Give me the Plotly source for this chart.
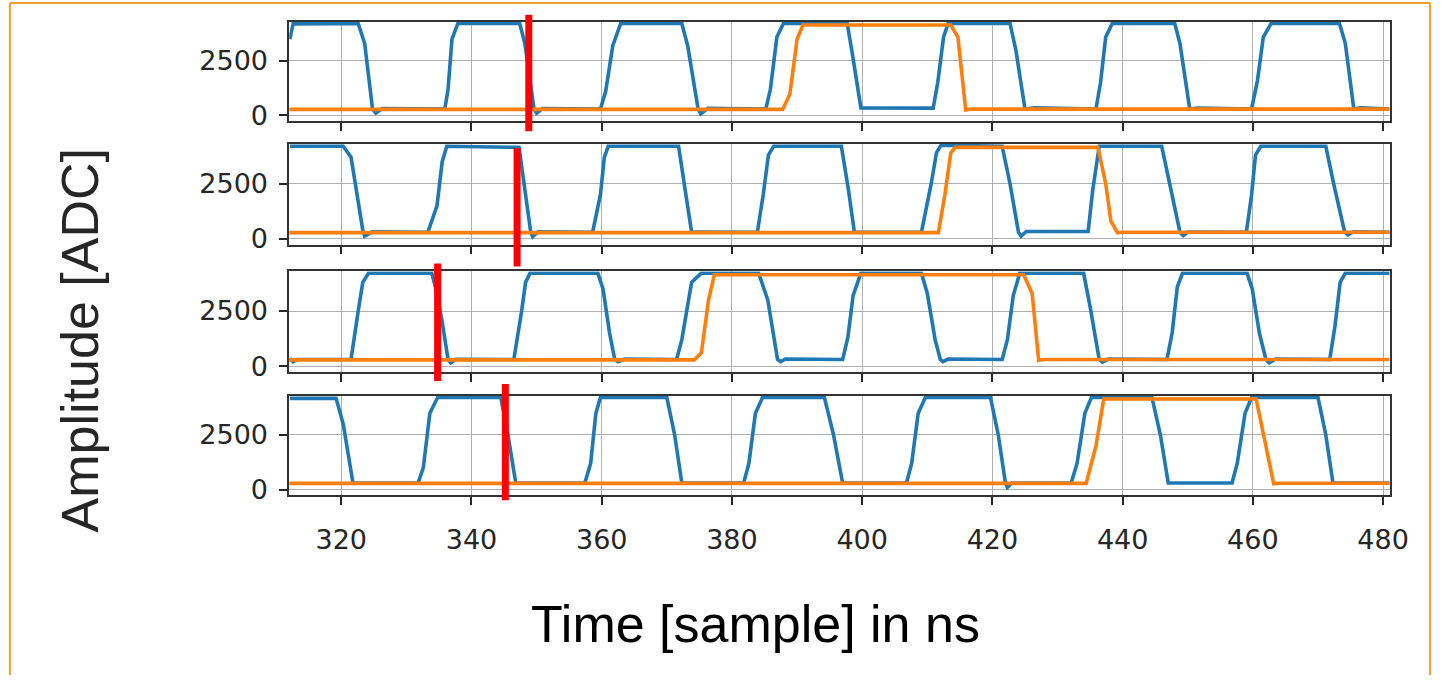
import plotly.graph_objects as go

# ---------------- data ----------------
x_ticks = [320, 340, 360, 380, 400, 420, 440, 460, 480]
y_ticks = [0, 2500]
x_range = [312, 481]
y_range = [-270, 4300]

# blue waveform vertices (time, ADC) per panel
blue_1 = [(312.1, 3500), (312.6, 4200), (322.6, 4220), (323.6, 3300), (324.8, 300), (325.3, 110), (326.3, 320),
          (335.9, 300), (336.4, 1200), (337.0, 3500), (337.9, 4220), (347.4, 4220), (348.2, 3300), (349.6, 300),
          (350.0, 110), (350.9, 320), (359.8, 300), (360.6, 1100), (361.7, 3200), (362.9, 4220), (372.3, 4220),
          (373.2, 3200), (374.8, 300), (375.2, 80), (376.3, 330), (385.2, 300), (385.9, 1200), (386.9, 3600),
          (387.9, 4220), (397.7, 4220), (398.5, 2800), (399.8, 350), (410.9, 340), (411.6, 1500), (412.5, 3600),
          (413.2, 4220), (422.7, 4220), (423.6, 3000), (425.0, 300), (425.5, 320), (426.5, 350), (435.9, 300),
          (436.6, 1500), (437.4, 3600), (438.4, 4220), (448.0, 4220), (448.8, 3300), (450.3, 300), (451.5, 340),
          (459.8, 300), (460.7, 1600), (461.6, 3600), (462.8, 4220), (473.3, 4220), (474.2, 3300), (475.5, 300),
          (476.5, 350), (481, 300)]
orange_1 = [(312, 280), (387.8, 280), (388.9, 1000), (390.0, 3500), (390.9, 4150), (413.6, 4150), (414.7, 3600),
            (415.5, 1500), (415.9, 260), (416.5, 290), (481, 290)]

blue_2 = [(312.1, 4200), (320.3, 4200), (321.5, 3700), (322.4, 2000), (323.3, 400), (323.6, 120), (324.8, 320),
          (333.3, 300), (334.7, 1500), (335.5, 3500), (336.2, 4200), (347.3, 4150), (348.5, 1500), (349.1, 300),
          (349.4, 100), (350.2, 320), (358.6, 300), (359.8, 2000), (360.4, 3700), (361.0, 4200), (371.8, 4200),
          (372.8, 2300), (373.8, 300), (374.5, 310), (383.9, 300), (384.8, 2000), (385.6, 3800), (386.4, 4200),
          (396.8, 4200), (397.9, 2200), (398.8, 300), (409.1, 300), (410.6, 2500), (411.4, 3900), (412.1, 4250),
          (421.5, 4200), (422.7, 2500), (424.0, 300), (424.4, 120), (425.2, 330), (434.7, 330), (435.4, 2200),
          (436.4, 4200), (446.0, 4200), (447.2, 2500), (448.8, 300), (449.3, 150), (450.0, 310), (459.0, 300),
          (459.8, 2000), (460.4, 3800), (461.2, 4200), (471.2, 4200), (472.4, 2500), (474.1, 300), (474.6, 180),
          (475.5, 320), (481, 300)]
orange_2 = [(312, 280), (411.7, 280), (412.7, 2000), (413.6, 3900), (414.3, 4150), (436.2, 4150), (437.4, 2500),
            (438.2, 800), (439.2, 270), (440.0, 300), (481, 300)]

blue_3 = [(312.1, 350), (312.6, 200), (313.3, 300), (321.5, 300), (322.6, 2500), (323.3, 3800), (324.2, 4220),
          (333.9, 4220), (334.7, 3300), (335.5, 2000), (336.4, 300), (336.8, 150), (337.6, 310), (346.5, 300),
          (347.7, 2500), (348.3, 3800), (349.0, 4220), (359.4, 4220), (360.2, 3500), (361.2, 1500), (362.0, 300),
          (362.5, 200), (363.5, 320), (371.5, 300), (372.3, 1200), (373.8, 3800), (375.3, 4220), (384.1, 4220),
          (385.5, 3000), (387.0, 300), (387.5, 200), (388.2, 320), (397.0, 300), (397.8, 1300), (398.6, 3200),
          (399.8, 4220), (409.1, 4220), (410.0, 3300), (411.2, 1200), (412.0, 300), (412.4, 200), (413.2, 320),
          (421.5, 300), (422.3, 1200), (423.2, 3200), (424.2, 4220), (434.0, 4220), (435.0, 2700), (436.4, 300),
          (436.9, 180), (437.8, 320), (446.8, 300), (447.6, 1500), (448.4, 3600), (449.2, 4220), (459.1, 4220),
          (459.9, 3500), (461.0, 1500), (462.0, 300), (462.5, 150), (463.5, 320), (471.8, 300), (472.6, 1800),
          (473.4, 3800), (474.2, 4220), (481, 4220)]
orange_3 = [(312, 280), (374.2, 280), (375.3, 600), (376.4, 3000), (377.3, 4150), (424.8, 4150), (426.1, 3300),
            (427.1, 270), (428.0, 300), (481, 300)]

blue_4 = [(312.1, 4180), (319.2, 4180), (320.3, 3000), (321.8, 300), (331.8, 300), (332.6, 1000), (333.6, 3500),
          (334.8, 4220), (344.5, 4220), (345.6, 2500), (346.8, 300), (357.4, 300), (358.3, 1200), (359.1, 3500),
          (359.8, 4220), (370.0, 4220), (371.2, 2500), (372.3, 300), (381.8, 300), (382.6, 1200), (383.6, 3500),
          (384.7, 4220), (394.2, 4220), (395.6, 2500), (397.0, 300), (406.8, 300), (407.6, 1200), (408.6, 3500),
          (409.7, 4220), (419.7, 4220), (420.9, 2500), (422.0, 300), (422.3, 100), (423.0, 300), (432.1, 300),
          (433.0, 1200), (434.2, 3500), (435.2, 4220), (444.5, 4220), (445.8, 2500), (447.0, 300), (456.8, 300),
          (457.6, 1200), (458.8, 3500), (459.8, 4220), (470.0, 4220), (471.2, 2500), (472.3, 300), (481, 300)]
orange_4 = [(312, 280), (434.4, 280), (435.9, 2000), (437.1, 4150), (460.5, 4150), (461.7, 2500), (463.2, 260),
            (464.0, 290), (481, 290)]

# red markers (time) per panel
red_marks = [348.8, 347.0, 334.8, 345.2]

blue_series = [blue_1, blue_2, blue_3, blue_4]
orange_series = [orange_1, orange_2, orange_3, orange_4]

# ---------------- layout geometry (pixels) ----------------
W, H = 1456, 684
panel_px = [(22, 123), (146, 248), (275, 377), (401, 502)]
red_px = [(15, 133), (150, 270), (267, 386), (389, 507)]
x_dom = [293 / W, 1408 / W]

BLUE = "#1f77b4"
ORANGE = "#ff7f0e"
TICKFONT = dict(family="DejaVu Sans", size=27, color="#262626")

fig = go.Figure()
layout = dict(width=W, height=H, margin=dict(l=0, r=0, t=0, b=0, pad=0),
              paper_bgcolor="white", plot_bgcolor="white", showlegend=False)

for i in range(4):
    n = "" if i == 0 else str(i + 1)
    xa, ya = "x" + n, "y" + n
    bx = [p[0] for p in blue_series[i]]
    by = [p[1] for p in blue_series[i]]
    ox = [p[0] for p in orange_series[i]]
    oy = [p[1] for p in orange_series[i]]
    fig.add_trace(go.Scatter(x=bx, y=by, mode="lines", line=dict(color=BLUE, width=3.6),
                             xaxis=xa, yaxis=ya))
    fig.add_trace(go.Scatter(x=ox, y=oy, mode="lines", line=dict(color=ORANGE, width=3.6),
                             xaxis=xa, yaxis=ya))
    top, bot = panel_px[i]
    layout["xaxis" + n] = dict(domain=x_dom, range=x_range, anchor=ya, tickvals=x_ticks,
                               showticklabels=(i == 3), ticks="outside", ticklen=8, tickwidth=1.5,
                               tickcolor="#262626", showgrid=True, gridcolor="#b0b0b0", gridwidth=1,
                               showline=True, linecolor="#333333", linewidth=1.5, mirror=True,
                               zeroline=False, tickfont=TICKFONT, ticklabelstandoff=11,
                               **({} if i == 0 else {"matches": "x"}))
    layout["yaxis" + n] = dict(domain=[1 - bot / H, 1 - top / H], range=y_range, anchor=xa,
                               tickvals=y_ticks, ticks="outside", ticklen=8, tickwidth=1.5,
                               tickcolor="#262626", showgrid=True, gridcolor="#b0b0b0", gridwidth=1,
                               showline=True, linecolor="#333333", linewidth=1.5, mirror=True,
                               zeroline=False, tickfont=TICKFONT, ticklabelstandoff=6)

shapes = []
for i in range(4):
    n = "" if i == 0 else str(i + 1)
    t, b = red_px[i]
    shapes.append(dict(type="line", xref="x" + n, yref="paper", x0=red_marks[i], x1=red_marks[i],
                       y0=1 - b / H, y1=1 - t / H, line=dict(color="#ff0000", width=7)))
# orange frame around the picture (top, left, right edges)
FRAME = dict(color="#f0a030", width=2)
fx0, fx1, fy1 = 10 / W, 1449 / W, 1 - 3 / H
shapes += [
    dict(type="line", xref="paper", yref="paper", x0=fx0, x1=fx1, y0=fy1, y1=fy1, line=FRAME),
    dict(type="line", xref="paper", yref="paper", x0=fx0, x1=fx0, y0=0, y1=fy1, line=FRAME),
    dict(type="line", xref="paper", yref="paper", x0=fx1, x1=fx1, y0=0, y1=fy1, line=FRAME),
]
layout["shapes"] = shapes

layout["annotations"] = [
    dict(text="Amplitude [ADC]", xref="paper", yref="paper", x=82 / W, y=1 - 345 / H, showarrow=False,
         textangle=-90, font=dict(family="Liberation Sans", size=52, color="#262626"),
         xanchor="center", yanchor="middle"),
    dict(text="Time [sample] in ns", xref="paper", yref="paper", x=765 / W, y=1 - 632 / H, showarrow=False,
         font=dict(family="Liberation Sans", size=52, color="#000000"), xanchor="center", yanchor="middle"),
]

fig.update_layout(**layout)
fig.write_html("out.html")
